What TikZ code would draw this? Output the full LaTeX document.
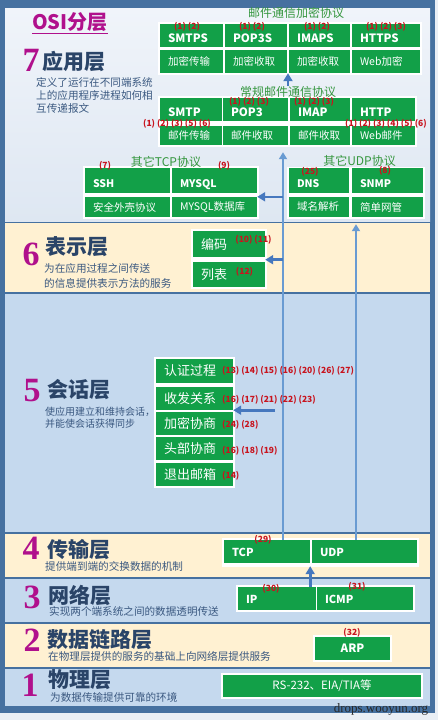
\documentclass[tikz,border=0pt]{standalone}
\usepackage{fontspec}
\setmainfont{Noto Sans CJK SC}
\newfontfamily\numfont{Liberation Serif}
\usetikzlibrary{arrows.meta}
\definecolor{paper}{RGB}{234,239,245}
\definecolor{frame}{RGB}{70,113,160}
\definecolor{skytop}{RGB}{240,244,250}
\definecolor{skybot}{RGB}{222,231,242}
\definecolor{cream}{RGB}{255,241,210}
\definecolor{lblue}{RGB}{197,217,238}
\definecolor{boxgreen}{RGB}{18,160,72}
\definecolor{numred}{RGB}{200,20,30}
\definecolor{plum}{RGB}{176,16,140}
\definecolor{ink}{RGB}{42,68,104}
\definecolor{desc}{RGB}{58,88,128}
\definecolor{grptxt}{RGB}{52,150,62}
\definecolor{pipeblue}{RGB}{105,155,210}
\definecolor{arrowblue}{RGB}{70,120,190}
\begin{document}
\begin{tikzpicture}[x=1pt,y=-1pt,
  gcell/.style={fill=boxgreen,text=white,inner sep=0pt,inner xsep=8pt,text width=#1,align=left},
  gmid/.style={fill=boxgreen,text=white,inner sep=0pt,minimum width=#1,align=center},
  headtxt/.style={font=\bfseries\fontsize{11.5}{11.5}\selectfont,text height=13pt,text depth=0pt},
  subtxt/.style={font=\fontsize{10.5}{10.5}\selectfont},
  bodytxt/.style={font=\fontsize{13}{13}\selectfont},
  redno/.style={text=numred,font=\bfseries\fontsize{8.5}{8.5}\selectfont,inner sep=0pt},
  grp/.style={text=grptxt,font=\fontsize{12}{12}\selectfont,inner sep=0pt},
  bignum/.style={text=plum,font=\numfont\bfseries\fontsize{34}{34}\selectfont,inner sep=0pt},
  lname/.style={text=ink,font=\bfseries\fontsize{21}{21}\selectfont,inner sep=0pt,text depth=0pt,anchor=west},
  ldesc/.style={text=desc,font=\fontsize{10.6}{10.6}\selectfont,inner sep=0pt,text height=8pt,text depth=1pt,anchor=west},
  harr/.style={draw=arrowblue,line width=2.6pt,-{Triangle[length=8pt,width=9pt]}},
  varr/.style={draw=pipeblue,line width=2pt,-{Triangle[length=7pt,width=8pt]}}]
\useasboundingbox (0,0) rectangle (438,720);
\fill[paper] (0,0) rectangle (438,720);
\fill[frame] (0,0) rectangle (435,713);
\shade[top color=skytop,bottom color=skybot] (5,8) rectangle (430,221.3);
\fill[cream] (5,222.7) rectangle (430,292.3);
\fill[lblue] (5,293.7) rectangle (430,532.3);
\fill[cream] (5,533.7) rectangle (430,577.3);
\fill[lblue] (5,578.7) rectangle (430,622.3);
\fill[cream] (5,623.7) rectangle (430,667.3);
\fill[lblue] (5,668.7) rectangle (430,706);

\fill[white] (158,22) rectangle (422,75);
\fill[white] (158,96) rectangle (417,147);
\fill[white] (83,166) rectangle (259,219);
\fill[white] (287,167) rectangle (425,219);
\fill[white] (191,229) rectangle (267,289);
\fill[white] (154,357) rectangle (235,488);
\fill[white] (222,538) rectangle (419,567);
\fill[white] (236,585) rectangle (415,612);
\fill[white] (313,635) rectangle (392,662);
\fill[white] (221,673) rectangle (423,699);

\node[text=plum,font=\bfseries\fontsize{20}{20}\selectfont,inner sep=0pt] (title) at (70,23) {\underline{OSI分层}};

\node[bignum] (n7) at (31,60) {7};
\node[lname] (l7) at (42,60) {应用层};
\node[ldesc] (d7a) at (36,82.5) {定义了运行在不同端系统};
\node[ldesc] (d7b) at (36,96) {上的应用程序进程如何相};
\node[ldesc] (d7c) at (36,108.5) {互传递报文};

\node[bignum] (n6) at (31,254) {6};
\node[lname] (l6) at (45,246) {表示层};
\node[ldesc] (d6a) at (44,269) {为在应用过程之间传送};
\node[ldesc] (d6b) at (44,284) {的信息提供表示方法的服务};

\node[bignum] (n5) at (32,391) {5};
\node[lname] (l5) at (47,388) {会话层};
\node[ldesc,font=\fontsize{10}{10}\selectfont] (d5a) at (45,412) {使应用建立和维持会话，};
\node[ldesc,font=\fontsize{10}{10}\selectfont] (d5b) at (45,423.5) {并能使会话获得同步};

\node[bignum] (n4) at (31,548.5) {4};
\node[lname] (l4) at (47,548) {传输层};
\node[ldesc] (d4) at (45,567) {提供端到端的交换数据的机制};

\node[bignum] (n3) at (32,597) {3};
\node[lname] (l3) at (48,594.5) {网络层};
\node[ldesc] (d3) at (49,612) {实现两个端系统之间的数据透明传送};

\node[bignum] (n2) at (32,640) {2};
\node[lname] (l2) at (47,638) {数据链路层};
\node[ldesc] (d2) at (48,657) {在物理层提供的服务的基础上向网络层提供服务};

\node[bignum] (n1) at (30,685) {1};
\node[lname] (l1) at (48,678.5) {物理层};
\node[ldesc] (d1) at (50,698) {为数据传输提供可靠的环境};

\node[grp] (enclab) at (296,13) {邮件通信加密协议};
\node[gcell=47pt,headtxt,minimum height=23pt] (smtps) at (191.5,35.5) {SMTPS};
\node[gcell=46pt,headtxt,minimum height=23pt] (pop3s) at (256,35.5) {POP3S};
\node[gcell=45pt,headtxt,minimum height=23pt] (imaps) at (319.5,35.5) {IMAPS};
\node[gcell=52pt,headtxt,minimum height=23pt] (https) at (386,35.5) {HTTPS};
\node[gcell=47pt,subtxt,minimum height=23pt] (smtpsd) at (191.5,61.5) {加密传输};
\node[gcell=46pt,subtxt,minimum height=23pt] (pop3sd) at (256,61.5) {加密收取};
\node[gcell=45pt,subtxt,minimum height=23pt] (imapsd) at (319.5,61.5) {加密收取};
\node[gcell=52pt,subtxt,minimum height=23pt] (httpsd) at (386,61.5) {Web加密};

\node[grp] (reglab) at (288,92) {常规邮件通信协议};
\node[gcell=46pt,headtxt,text height=14pt,minimum height=23pt] (smtp) at (191,109.5) {SMTP};
\node[gcell=49pt,headtxt,text height=14pt,minimum height=23pt] (pop3) at (255.5,109.5) {POP3};
\node[gcell=44pt,headtxt,text height=14pt,minimum height=23pt] (imap) at (320,109.5) {IMAP};
\node[gcell=47pt,headtxt,text height=14pt,minimum height=23pt] (http) at (383.5,109.5) {HTTP};
\node[gcell=46pt,subtxt,minimum height=19pt] (smtpd) at (191,135.5) {邮件传输};
\node[gcell=49pt,subtxt,minimum height=19pt] (pop3d) at (255.5,135.5) {邮件收取};
\node[gcell=44pt,subtxt,minimum height=19pt] (imapd) at (320,135.5) {邮件收取};
\node[gcell=47pt,subtxt,minimum height=19pt] (httpd) at (383.5,135.5) {Web邮件};

\node[grp] (tcplab) at (166,162) {其它TCP协议};
\node[gcell=69pt,headtxt,font=\bfseries\fontsize{10.5}{10.5}\selectfont,minimum height=25pt] (ssh) at (127.5,180.5) {SSH};
\node[gcell=69pt,headtxt,font=\bfseries\fontsize{10.5}{10.5}\selectfont,minimum height=25pt] (mysql) at (214.5,180.5) {MYSQL};
\node[gcell=69pt,subtxt,minimum height=20pt] (sshd) at (127.5,207) {安全外壳协议};
\node[gcell=69pt,subtxt,minimum height=20pt] (mysqld) at (214.5,207) {MYSQL数据库};

\node[grp] (udplab) at (359.5,161) {其它UDP协议};
\node[gcell=44pt,headtxt,font=\bfseries\fontsize{10.5}{10.5}\selectfont,minimum height=25pt] (dns) at (319,180.5) {DNS};
\node[gcell=55pt,headtxt,font=\bfseries\fontsize{10.5}{10.5}\selectfont,minimum height=25pt] (snmp) at (387.5,180.5) {SNMP};
\node[gcell=44pt,subtxt,minimum height=20pt] (dnsd) at (319,207) {域名解析};
\node[gcell=55pt,subtxt,minimum height=20pt] (snmpd) at (387.5,207) {简单网管};

\node[gcell=56pt,bodytxt,minimum height=26pt] (bianma) at (229,244) {编码};
\node[gcell=56pt,bodytxt,minimum height=25pt] (liebiao) at (229,274.5) {列表};

\node[gcell=61pt,bodytxt,minimum height=24pt] (rz) at (194.5,371) {认证过程};
\node[gcell=61pt,bodytxt,minimum height=23pt] (sf) at (194.5,398.5) {收发关系};
\node[gcell=61pt,bodytxt,minimum height=23pt] (jm) at (194.5,423.5) {加密协商};
\node[gcell=61pt,bodytxt,minimum height=23pt] (tb) at (194.5,448.5) {头部协商};
\node[gcell=61pt,bodytxt,minimum height=23pt] (tc) at (194.5,474.5) {退出邮箱};

\node[gcell=70pt,headtxt,font=\bfseries\fontsize{11}{11}\selectfont,text height=10pt,minimum height=23pt] (tcp) at (267,551.5) {TCP};
\node[gcell=89pt,headtxt,font=\bfseries\fontsize{11}{11}\selectfont,text height=10pt,minimum height=23pt] (udp) at (364.5,551.5) {UDP};
\node[gcell=62pt,headtxt,font=\bfseries\fontsize{11}{11}\selectfont,text height=10pt,minimum height=23pt] (ip) at (277,598.5) {IP};
\node[gcell=80pt,headtxt,font=\bfseries\fontsize{11}{11}\selectfont,text height=10pt,minimum height=23pt] (icmp) at (365,598.5) {ICMP};
\node[gmid=75pt,font=\bfseries\fontsize{11.5}{11.5}\selectfont,minimum height=23pt] (arp) at (352.5,648.5) {ARP};
\node[gmid=198pt,font=\fontsize{11.5}{11.5}\selectfont,minimum height=22pt] (phy) at (322,686) {RS-232、EIA/TIA等};

\coordinate (tcpup) at ([xshift=16pt]tcp.north);
\coordinate (udpup) at ([xshift=-8.5pt]udp.north);
\coordinate (bmpt) at ([yshift=-2.5pt]bianma.south east);
\draw[varr,shorten >=7pt] (tcpup) -- (tcpup |- pop3d.south);
\draw[varr,shorten >=7pt] (udpup) -- (udpup |- dnsd.south);
\draw[harr] (reglab.north) -- (reglab.north |- imapsd.south);
\draw[harr] (tcpup |- mysqld.north east) -- (mysqld.north east);
\draw[harr] (tcpup |- bmpt) -- (bmpt);
\draw[harr] ([xshift=42pt]sf.south east) -- (sf.south east);
\draw[harr,shorten >=3pt] (tcp.south east |- ip.north) -- (tcp.south east);

\node[redno] (r1) at (187,27) {(1) (2)};
\node[redno] (r2) at (252,27) {(1) (2)};
\node[redno] (r3) at (317,27) {(1) (2)};
\node[redno] (r4) at (386,27) {(1) (2) (3)};
\node[redno] (r5) at (177,124) {(1) (2) (3) (5) (6)};
\node[redno] (r6) at (249,102) {(1) (2) (3)};
\node[redno] (r7) at (314,102) {(1) (2) (3)};
\node[redno] (r8) at (386,124) {(1) (2) (3) (4) (5) (6)};
\node[redno] (r9) at (105,166) {(7)};
\node[redno] (r10) at (224,166) {(9)};
\node[redno] (r11) at (310,172) {(25)};
\node[redno] (r12) at (385,171) {(8)};
\node[redno] (r13) at (253.5,240) {(10) (11)};
\node[redno] (r14) at (244.5,272) {(12)};
\node[redno,anchor=west] (r15) at (222,371) {(13) (14) (15) (16) (20) (26) (27)};
\node[redno,anchor=west] (r16) at (222,399.5) {(16) (17) (21) (22) (23)};
\node[redno,anchor=west] (r17) at (222,424.5) {(24) (28)};
\node[redno,anchor=west] (r18) at (222,450.5) {(16) (18) (19)};
\node[redno,anchor=west] (r19) at (222,476) {(14)};
\node[redno] (r20) at (263,540) {(29)};
\node[redno] (r21) at (271,589) {(30)};
\node[redno] (r22) at (357,587) {(31)};
\node[redno] (r23) at (352,633) {(32)};

\node[text={rgb,255:red,40;green,40;blue,40},font=\numfont\fontsize{13}{13}\selectfont,inner sep=0pt] (mark) at (381,709) {drops.wooyun.org};
\end{tikzpicture}
\end{document}
